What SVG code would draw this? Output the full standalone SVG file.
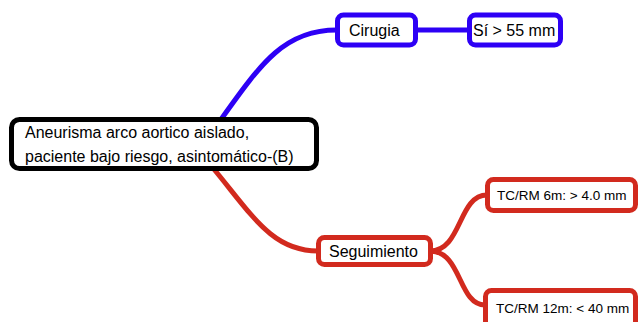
<svg xmlns="http://www.w3.org/2000/svg" width="638" height="322" viewBox="0 0 638 322">
<style>
.n{fill:#fff;stroke-width:5}
.c{fill:none;stroke-width:5;stroke-linecap:round}
.blue{stroke:#2d00f5}
.red{stroke:#d22a1e}
.black{stroke:#000}
text{font-family:"Liberation Sans",Arial,sans-serif;fill:#000}
.t15{font-size:16px}
.t13{font-size:13.5px}
</style>
<rect width="638" height="322" fill="#fff"/>
<g id="connectors">
<path class="c blue" d="M222 118 C262 62 285 30 337 30"/>
<path class="c blue" d="M416 30 L469 30"/>
<path class="c red" d="M213 168 C252 215 272 251 318 251"/>
<path class="c red" d="M430 251 C462 251 458 195 487 195"/>
<path class="c red" d="M430 251 C462 251 458 305 485 305"/>
</g>
<g id="main">
<rect class="n black" x="11.5" y="119.5" width="305" height="49" rx="8"/>
<text class="t15" x="25" y="138">Aneurisma arco aortico aislado,</text>
<text class="t15" x="25" y="162">paciente bajo riesgo, asintomático-(B)</text>
</g>
<g id="cirugia">
<rect class="n blue" x="337.5" y="15" width="78" height="30" rx="6"/>
<text class="t15" x="349" y="36">Cirugia</text>
</g>
<g id="si55">
<rect class="n blue" x="469.5" y="15" width="91" height="30" rx="6"/>
<text class="t15" x="473" y="36">Sí &gt; 55 mm</text>
</g>
<g id="seguimiento">
<rect class="n red" x="318.5" y="237.5" width="112" height="27" rx="6"/>
<text class="t15" x="329" y="257">Seguimiento</text>
</g>
<g id="tc6">
<rect class="n red" x="487.5" y="179.5" width="148" height="31" rx="6"/>
<text class="t13" x="497" y="200">TC/RM 6m: &gt; 4.0 mm</text>
</g>
<g id="tc12">
<rect class="n red" x="485.5" y="290.5" width="150" height="40" rx="6"/>
<text class="t13" x="496" y="313">TC/RM 12m: &lt; 40 mm</text>
</g>
</svg>
